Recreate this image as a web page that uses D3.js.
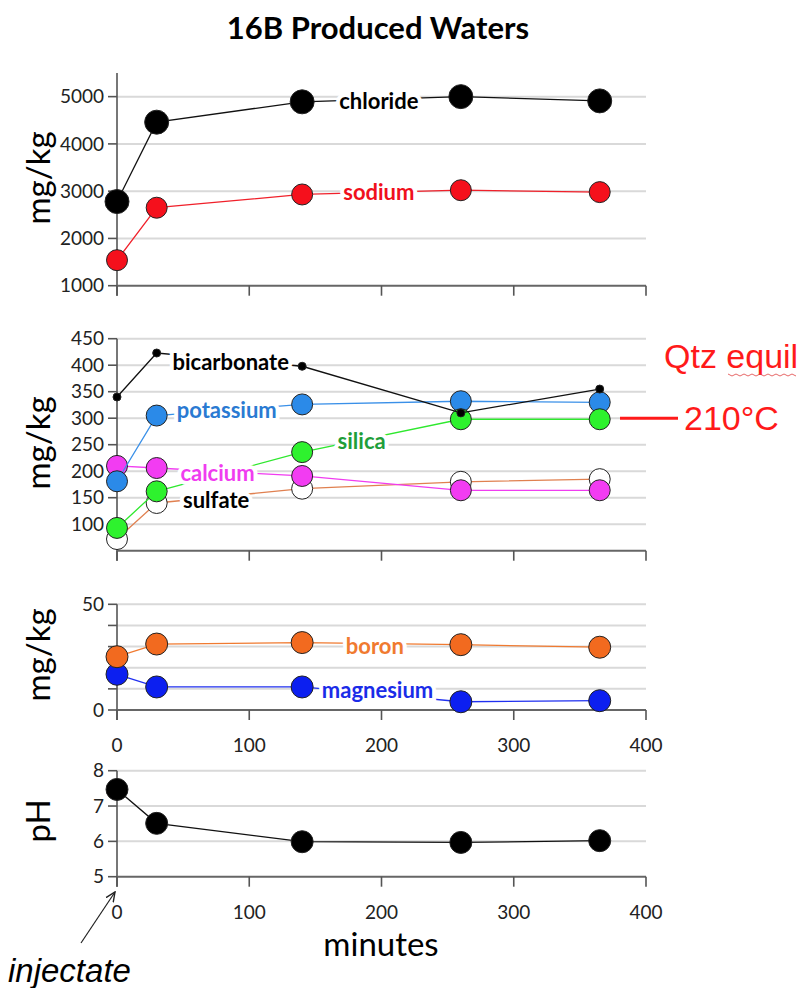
<!DOCTYPE html>
<html>
<head>
<meta charset="utf-8">
<script src="https://cdn.jsdelivr.net/npm/d3@7"></script>
<style>
  body { margin: 0; background: #fff; }
  text { font-family: Lato, "Open Sans", sans-serif; }
</style>
</head>
<body>
<svg id="chart"></svg>
<script>
// sample times, minutes after injection
var minutes = [0, 30, 140, 260, 365];

// major ions, mg/kg
var chloride = [2780, 4460, 4890, 5000, 4910];
var sodium = [1540, 2650, 2930, 3020, 2980];

// minor species, mg/kg
var bicarbonate = [340, 423, 398, 310, 355];
var potassium = [181, 305, 326, 332, 330];
var silica = [93, 162, 236, 298, 298];
var calcium = [210, 206, 191, 164, 164];
var sulfate = [72, 140, 167, 180, 185];

// trace species, mg/kg
var boron = [25.2, 31.2, 31.9, 30.9, 29.7];
var magnesium = [16.9, 10.9, 10.9, 3.9, 4.4];

var ph = [7.47, 6.51, 5.99, 5.97, 6.02];

var xTicks = [0, 100, 200, 300, 400];
var majorTicks = [1000, 2000, 3000, 4000, 5000];
var minorTicks = [100, 150, 200, 250, 300, 350, 400, 450];
var traceTicks = [0, 50];
var phTicks = [5, 6, 7, 8];

var width = 802, height = 988;
var svg = d3.select("#chart").attr("width", width).attr("height", height);

var x = d3.scaleLinear().domain([0, 400]).range([117, 646]);

var panels = {
  major: d3.scaleLinear().domain([1000, 5500]).range([285.7, 73]),
  minor: d3.scaleLinear().domain([50, 450]).range([550.7, 338.7]),
  trace: d3.scaleLinear().domain([0, 50]).range([710, 604.3]),
  ph: d3.scaleLinear().domain([5, 8]).range([876.7, 770.7])
};

// title
svg.append("text")
  .attr("x", 378).attr("y", 39)
  .attr("text-anchor", "middle")
  .style("font-size", "31px").style("font-weight", "bold")
  .text("16B Produced Waters");

function drawFrame(y, grid, labels, marks, xLabels, title, titleY) {
  var g = svg.append("g");
  // gridlines
  g.selectAll(".grid").data(grid).enter().append("line")
    .attr("x1", x(0)).attr("x2", x(400))
    .attr("y1", d => y(d)).attr("y2", d => y(d))
    .attr("stroke", "#d9d9d9").attr("stroke-width", 2);
  // y axis
  var y0 = y.domain()[0];
  g.append("line")
    .attr("x1", x(0)).attr("x2", x(0))
    .attr("y1", y(y.domain()[1])).attr("y2", y(y0) + 10)
    .attr("stroke", "#555").attr("stroke-width", 1.6);
  g.selectAll(".ytick").data(marks).enter().append("line")
    .attr("x1", x(0) - 9).attr("x2", x(0))
    .attr("y1", d => y(d)).attr("y2", d => y(d))
    .attr("stroke", "#555").attr("stroke-width", 1.6);
  g.selectAll(".ylab").data(labels).enter().append("text")
    .attr("x", x(0) - 13).attr("y", d => y(d))
    .attr("dy", "0.35em").attr("text-anchor", "end")
    .style("font-size", "19px").style("fill", "#222")
    .text(d => d);
  // x axis
  g.append("line")
    .attr("x1", x(0)).attr("x2", x(400))
    .attr("y1", y(y0)).attr("y2", y(y0))
    .attr("stroke", "#666").attr("stroke-width", 2);
  g.selectAll(".xtick").data(xTicks).enter().append("line")
    .attr("x1", d => x(d)).attr("x2", d => x(d))
    .attr("y1", y(y0)).attr("y2", y(y0) + 10)
    .attr("stroke", "#555").attr("stroke-width", 1.6);
  if (xLabels) {
    g.selectAll(".xlab").data(xTicks).enter().append("text")
      .attr("x", d => x(d)).attr("y", y(y0) + 42)
      .attr("text-anchor", "middle")
      .style("font-size", "19px").style("fill", "#222")
      .text(d => d);
  }
  g.append("text")
    .attr("transform", "translate(50," + titleY + ") rotate(-90)")
    .attr("text-anchor", "middle")
    .style("font-size", "33px")
    .text(title);
}

drawFrame(panels.major, [2000, 3000, 4000, 5000], majorTicks, majorTicks, false, "mg/kg", 178);
drawFrame(panels.minor, minorTicks, minorTicks, minorTicks, false, "mg/kg", 443);
drawFrame(panels.trace, [10, 20, 30, 40, 50], traceTicks, [0, 10, 20, 30, 40, 50], true, "mg/kg", 655);
drawFrame(panels.ph, [6, 7, 8], phTicks, phTicks, true, "pH", 821);

function drawSeries(y, values, line, fill, r) {
  var pts = minutes.map((m, i) => [m, values[i]]);
  var g = svg.append("g");
  g.append("path")
    .datum(pts)
    .attr("d", d3.line().x(d => x(d[0])).y(d => y(d[1])))
    .attr("fill", "none").attr("stroke", line).attr("stroke-width", 1.3);
  g.selectAll("circle").data(pts).enter().append("circle")
    .attr("cx", d => x(d[0])).attr("cy", d => y(d[1]))
    .attr("r", r)
    .attr("fill", fill).attr("stroke", "#222").attr("stroke-width", 1);
}

function label(y, mx, v, txt, color) {
  svg.append("text")
    .attr("x", x(mx)).attr("y", y(v))
    .attr("dy", "0.35em").attr("text-anchor", "middle")
    .style("font-size", "22px").style("font-weight", "bold")
    .style("fill", color)
    .style("stroke", "#fff").style("stroke-width", 8)
    .style("paint-order", "stroke")
    .text(txt);
}

drawSeries(panels.major, sodium, "#f0202a", "#f5101c", 10.5);
drawSeries(panels.major, chloride, "#111", "#000", 12);
label(panels.major, 198, 4910, "chloride", "#000");
label(panels.major, 198, 2983, "sodium", "#f0101c");

drawSeries(panels.minor, sulfate, "#e08050", "#fff", 10.5);
drawSeries(panels.minor, calcium, "#f03cf0", "#f23cf2", 10.5);
drawSeries(panels.minor, potassium, "#3a90e8", "#2b8ae8", 10.5);
drawSeries(panels.minor, silica, "#2ee82e", "#2ef22e", 10.5);
drawSeries(panels.minor, bicarbonate, "#111", "#000", 4);
label(panels.minor, 86, 405, "bicarbonate", "#000");
label(panels.minor, 83, 315, "potassium", "#2a7ad2");
label(panels.minor, 185, 257, "silica", "#1f9e3a");
label(panels.minor, 76, 196, "calcium", "#f03cf0");
label(panels.minor, 75, 145, "sulfate", "#000");

drawSeries(panels.trace, magnesium, "#2030f0", "#0c1ff0", 11);
drawSeries(panels.trace, boron, "#f07a30", "#f26a1f", 11);
label(panels.trace, 195, 30.3, "boron", "#f07a30");
label(panels.trace, 197, 9.5, "magnesium", "#1a2ce8");

drawSeries(panels.ph, ph, "#111", "#000", 11);

// quartz equilibrium marker
svg.append("line")
  .attr("x1", 620).attr("x2", 678)
  .attr("y1", panels.minor(300)).attr("y2", panels.minor(300))
  .attr("stroke", "#ff1a1a").attr("stroke-width", 3);
svg.append("text")
  .attr("x", 684).attr("y", panels.minor(300))
  .attr("dy", "0.35em")
  .style("font-family", "'Liberation Sans', Arial, sans-serif")
  .style("font-size", "34px").style("fill", "#ff1a1a")
  .text("210°C");
svg.append("text")
  .attr("x", 664).attr("y", 368)
  .style("font-family", "'Liberation Sans', Arial, sans-serif")
  .style("font-size", "34px").style("fill", "#ff1a1a")
  .text("Qtz equil");
// spell-check squiggle under "equil"
var wave = d3.range(0, 18).map(i => [728 + i * 4, 374 + (i % 2 ? 2 : 0)]);
svg.append("path")
  .attr("d", d3.line()(wave))
  .attr("fill", "none").attr("stroke", "#e04040").attr("stroke-width", 0.8);

// x title
svg.append("text")
  .attr("x", 381).attr("y", 956)
  .attr("text-anchor", "middle")
  .style("font-size", "33px")
  .text("minutes");

// injectate arrow
svg.append("defs").append("marker")
  .attr("id", "arr").attr("viewBox", "0 0 10 10")
  .attr("refX", 9).attr("refY", 5)
  .attr("markerWidth", 9).attr("markerHeight", 9)
  .attr("orient", "auto")
  .append("path").attr("d", "M0,1 L9,5 L0,9")
  .attr("fill", "none").attr("stroke", "#222").attr("stroke-width", 1.3);
svg.append("line")
  .attr("x1", 81).attr("y1", 943).attr("x2", 115).attr("y2", 892)
  .attr("stroke", "#222").attr("stroke-width", 1.2)
  .attr("marker-end", "url(#arr)");
svg.append("text")
  .attr("x", 8).attr("y", 982)
  .style("font-family", "'Liberation Sans', Arial, sans-serif")
  .style("font-size", "33px").style("font-style", "italic")
  .text("injectate");
</script>
</body>
</html>
